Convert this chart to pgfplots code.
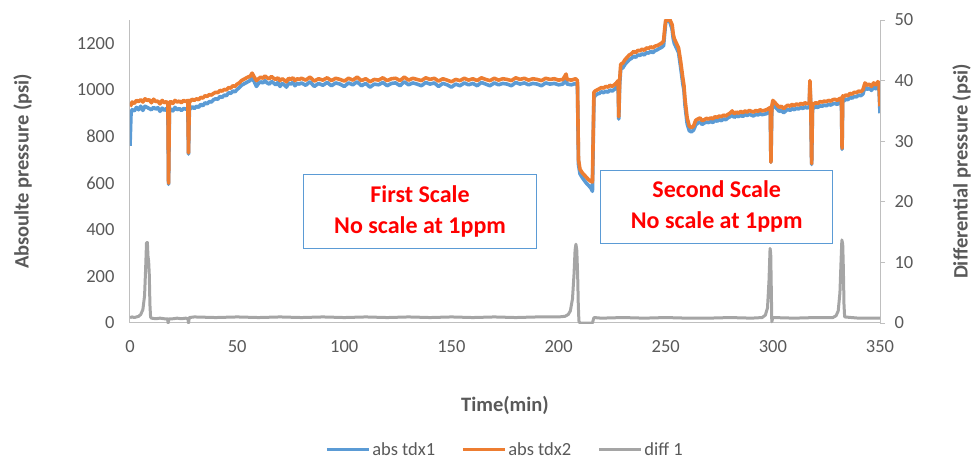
\documentclass[border=0pt]{standalone}
\usepackage{fontspec}
\setmainfont{Carlito}
\usepackage{pgfplots}
\pgfplotsset{compat=1.18}
\usepackage{pgfplotstable}

\definecolor{tdxblue}{HTML}{5B9BD5}
\definecolor{tdxorange}{HTML}{ED7D31}
\definecolor{diffgray}{HTML}{A5A5A5}
\definecolor{axisgray}{HTML}{BFBFBF}
\definecolor{textgray}{HTML}{595959}

\newcommand{\lblfont}{\fontsize{18.5}{22}\selectfont}
\newcommand{\titlefont}{\fontsize{20.5}{24}\selectfont\bfseries}

% absolute pressures, psi
\pgfplotstableread{
t tdx1 tdx2
0 760 930
0.5 905 935
1 915 948
2 910 942
3 925 955
4 915 950
5 930 958
6 912 948
7 930 962
8 925 955
9 920 958
10 915 945
11 925 960
12 918 950
13 924 952
14 908 940
15 922 955
16 912 945
17 920 950
17.7 910 940
18 595 600
18.4 912 945
19 918 950
20 910 942
21 925 955
22 915 948
23 920 952
24 912 945
25 920 955
26 918 950
27 922 955
27.3 725 730
27.7 920 955
28 918 950
29 928 960
30 920 955
31 930 962
32 925 958
33 938 968
34 932 965
35 945 975
36 940 972
37 950 980
38 948 978
39 958 985
40 962 990
41 960 988
42 972 998
43 968 995
44 978 1002
45 975 1000
46 988 1010
47 985 1008
48 995 1018
49 992 1015
50 1002 1025
51 1010 1030
52 1020 1040
53 1025 1045
54 1030 1050
55 1035 1055
56 1040 1058
57 1052 1072
58 1035 1055
59 1015 1040
60 1028 1048
61 1035 1055
62 1030 1050
63 1040 1060
64 1030 1052
65 1025 1048
66 1036 1058
67 1030 1050
68 1022 1045
69 1032 1052
70 1015 1040
71 1028 1048
72 1022 1042
73 1012 1035
74 1030 1050
75 1025 1045
76 1032 1052
77 1018 1040
78 1028 1048
79 1025 1045
80 1030 1050
82 1020 1042
84 1035 1055
86 1015 1038
88 1028 1048
90 1020 1042
92 1032 1052
94 1018 1040
96 1030 1050
98 1025 1045
100 1015 1038
102 1030 1050
104 1022 1042
106 1035 1055
108 1018 1040
110 1028 1048
112 1012 1035
114 1025 1045
116 1022 1042
118 1032 1052
120 1018 1040
122 1028 1048
124 1030 1050
126 1018 1040
128 1035 1055
130 1022 1042
132 1030 1050
134 1025 1045
136 1018 1040
138 1032 1052
140 1025 1045
142 1030 1050
144 1015 1038
146 1028 1048
148 1022 1042
150 1012 1035
152 1025 1045
154 1018 1040
156 1030 1050
158 1022 1042
160 1028 1048
162 1018 1040
164 1032 1052
166 1025 1045
168 1018 1040
170 1030 1050
172 1022 1042
174 1028 1048
176 1025 1045
178 1018 1040
180 1032 1052
182 1025 1045
184 1030 1050
186 1022 1042
188 1028 1048
190 1025 1045
192 1018 1040
194 1030 1050
196 1025 1045
198 1028 1048
200 1022 1042
202 1025 1045
203.5 1048 1068
204 1025 1045
206 1022 1042
208 1028 1048
208.8 1020 1040
209.3 680 700
210 640 660
211 625 645
212 612 635
213 600 625
214 590 615
215 580 608
215.8 565 605
216.5 965 990
217 975 995
218 982 1000
219 985 1005
220 992 1010
221 988 1008
222 995 1015
223 990 1012
224 1000 1020
225 995 1015
226 1002 1022
227 1010 1030
227.8 1020 1040
228.1 875 885
228.5 1020 1040
229 1090 1110
230 1095 1115
231 1110 1130
232 1120 1140
233 1130 1150
234 1135 1155
235 1145 1165
236 1140 1160
237 1150 1170
238 1148 1168
239 1155 1175
240 1150 1170
241 1160 1180
242 1158 1178
243 1165 1185
244 1160 1180
245 1168 1188
246 1172 1190
247 1178 1195
248 1182 1200
249 1190 1210
249.5 1240 1260
250 1290 1300
251 1300 1300
252 1290 1300
253 1260 1280
253.5 1220 1240
254 1200 1220
255 1180 1200
256 1160 1180
257 1095 1120
258 1025 1050
258.5 1000 1020
259 935 960
260 855 880
261 825 845
262 820 838
263 828 845
264 850 870
265 858 875
266 862 880
267 852 868
268 858 872
269 862 878
270 860 875
271 865 880
272 860 876
273 870 885
274 866 882
275 872 888
276 868 885
277 876 892
278 872 888
279 880 895
280 885 900
281 892 910
282 882 898
283 890 905
284 885 900
285 892 908
286 886 902
287 895 910
288 890 905
289 896 912
290 892 908
291 888 905
292 896 912
293 892 908
294 898 915
295 894 910
296 896 912
297 898 915
298 904 920
298.8 908 925
299.1 690 690
299.5 912 930
300 938 955
301 928 945
302 918 935
303 908 925
304 912 930
305 902 920
306 910 928
307 918 935
308 912 930
309 920 938
310 915 932
311 922 940
312 918 935
313 925 942
314 920 938
315 928 945
316 922 940
317 928 945
317.3 1030 1040
317.7 922 940
318.1 680 684
318.5 918 935
319 922 940
320 928 945
321 925 942
322 932 950
323 930 948
324 935 952
325 932 950
326 938 955
327 935 952
328 940 958
329 942 960
330 938 955
331 945 962
332 948 965
332.3 745 750
332.6 958 975
333 952 970
334 960 978
335 958 975
336 968 985
337 965 982
338 972 990
339 970 988
340 978 995
341 975 992
342 982 1000
343 1012 1030
344 1002 1020
345 1008 1025
346 998 1015
347 1012 1030
348 1005 1022
349 1018 1035
349.5 1012 1030
350 900 930
}\abstable

% differential pressure, psi
\pgfplotstableread{
t diff
0 0.9
1 1.0
2 0.9
3 1.0
4 1.1
5 1.4
6 2.2
6.8 4.5
7.3 9
7.7 13.2
8.1 13.3
8.4 11
8.7 10.2
9.0 8
9.3 3
9.6 1.0
10 0.8
12 0.7
14 0.8
16 0.7
17.5 0.7
17.8 0
18.2 0.7
20 0.7
22 0.8
24 0.7
26 0.8
27 0.7
27.3 0
27.7 0.9
30 1.0
40 0.9
50 1.0
60 0.9
70 1.0
80 0.9
90 1.0
100 0.9
110 1.0
120 0.9
130 1.0
140 0.9
150 1.0
160 0.9
170 1.0
180 0.9
190 1.0
200 1.0
203 1.1
204.5 1.4
205.5 2
206.5 4
207.2 8
207.7 12
208.1 13
208.5 12
208.9 8
209.2 3
209.5 0.3
210 0
215.8 0
216.5 0.9
220 0.8
230 0.9
240 0.8
250 0.9
260 0.8
270 0.8
280 0.9
290 0.8
295 0.9
296.5 1.3
297.5 2.5
298.2 7
298.7 12.3
299.0 11.5
299.3 5
299.5 0.2
300 0.9
310 0.8
320 0.9
328 0.9
329.5 1.2
330.5 2
331.3 5
331.8 10
332.2 13.7
332.6 13
332.9 9
333.2 3
333.5 1.0
340 0.8
350 0.8
}\difftable

\pgfplotsset{
  common/.style={
    at={(0,0)}, anchor=south west,
    scale only axis, width=750pt, height=303pt,
    xmin=0, xmax=350,
    axis line style={-, draw=axisgray, line width=1pt},
    tick style={draw=axisgray, line width=1pt},
    ticklabel style={font=\lblfont, text=textgray},
    label style={font=\titlefont, text=textgray},
    /pgf/number format/assume math mode=true,
    /pgf/number format/1000 sep={},
  },
}

\begin{document}
\begin{tikzpicture}
\path[use as bounding box] (-130pt,-137pt) rectangle (842pt,323pt);

\begin{axis}[
  common,
  ymin=0, ymax=1300,
  axis x line*=bottom, axis y line*=left,
  xtick={0,50,...,350}, ytick={0,200,...,1200},
  major tick length=0pt,
  yticklabel style={xshift=-12pt},
  xticklabel style={yshift=-14pt},
  xlabel={Time(min)},
  ylabel={Absoulte pressure (psi)},
  xlabel style={at={(axis description cs:0.5,-0.271)}, anchor=center},
  ylabel style={at={(axis description cs:-0.143,0.5)}, anchor=center},
]
\addplot[tdxblue, line width=3.6pt, line join=round] table[x=t, y=tdx1] {\abstable};
\addplot[tdxorange, line width=3.6pt, line join=round] table[x=t, y=tdx2] {\abstable};

\draw[tdxblue, line width=1pt] (axis cs:81.2,317.5) rectangle (axis cs:189.5,639);
\node[text=red, font=\fontsize{24}{31}\selectfont\bfseries, align=center]
  at (axis cs:135.35,478) {First Scale\\No scale at 1ppm};
\draw[tdxblue, line width=1pt] (axis cs:219.6,343) rectangle (axis cs:328,656);
\node[text=red, font=\fontsize{24}{31}\selectfont\bfseries, align=center]
  at (axis cs:273.8,500) {Second Scale\\No scale at 1ppm};
\end{axis}

\begin{axis}[
  common,
  ymin=0, ymax=50,
  axis x line=none, axis y line*=right,
  ytick={0,10,...,50},
  major tick length=5pt, tick align=outside,
  yticklabel style={xshift=6pt},
  ylabel={Differential pressure (psi)},
  ylabel style={at={(axis description cs:1.109,0.5)}, anchor=center},
  legend columns=3,
  legend style={at={(0.5,-0.419)}, anchor=center, draw=none, fill=none,
    font=\lblfont, text=textgray,
    /tikz/every even column/.append style={column sep=24pt}},
  legend image code/.code={\draw[#1, line width=3pt] (0pt,0pt) -- (42pt,0pt);},
]
\addlegendimage{tdxblue}
\addlegendentry{abs tdx1}
\addlegendimage{tdxorange}
\addlegendentry{abs tdx2}
\addplot[diffgray, line width=3pt, line join=round] table[x=t, y=diff] {\difftable};
\addlegendentry{diff 1}
\end{axis}
\end{tikzpicture}
\end{document}
